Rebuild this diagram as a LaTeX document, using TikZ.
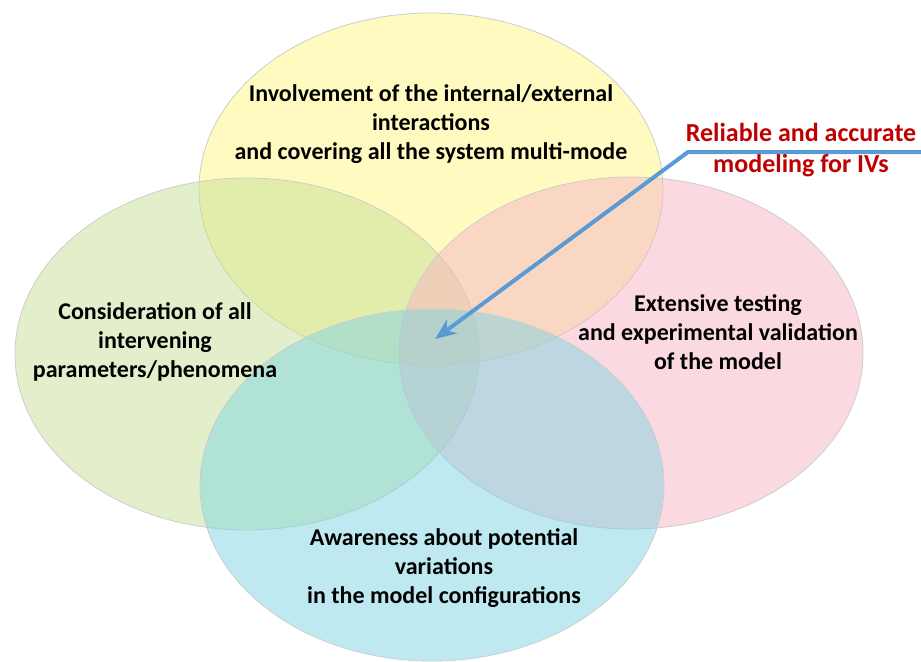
\documentclass[tikz,border=0pt]{standalone}
\usepackage{fontspec}
\setmainfont{Carlito}
\usetikzlibrary{shapes.geometric,arrows.meta}

\definecolor{ovYellow}{RGB}{255,246,130}
\definecolor{ovGreen}{RGB}{200,224,150}
\definecolor{ovPink}{RGB}{246,180,196}
\definecolor{ovCyan}{RGB}{128,212,226}
\definecolor{ovEdge}{RGB}{205,205,205}
\definecolor{goalRed}{RGB}{192,0,0}
\definecolor{arrowBlue}{RGB}{91,155,213}

\tikzset{
	every picture/.style={line width=0.75pt},
	oval/.style={ellipse, draw=ovEdge, line width=0.6pt, fill opacity=0.5, minimum width=348pt, minimum height=264pt, inner sep=0pt},
	lbl/.style={align=center, font=\bfseries\fontsize{18}{21.5}\selectfont, text=black},
	goal/.style={align=center, font=\bfseries\fontsize{19.5}{23.5}\selectfont, text=goalRed}
}

\begin{document}
\begin{tikzpicture}[x=0.75pt,y=0.75pt,yscale=-1,xscale=1]
	\useasboundingbox (0,0) rectangle (921,661);

	% ovals
	\node[oval, fill=ovYellow] (top) at (431,189) {};
	\node[oval, fill=ovGreen] (left) at (247,354) {};
	\node[oval, fill=ovPink] (right) at (631,353) {};
	\node[oval, fill=ovCyan] (bottom) at (432,485) {};

	% texts
	\node[lbl] (topTxt) at (431,124) {Involvement of the internal/external\\interactions\\and covering all the system multi-mode};
	\node[lbl] (leftTxt) at (155,342) {Consideration of all\\intervening\\parameters/phenomena};
	\node[lbl] (rightTxt) at (718,332) {Extensive testing\\and experimental validation\\of the model};
	\node[lbl] (bottomTxt) at (444,568) {Awareness about potential\\variations\\in the model configurations};
	\node[goal] (goalTxt) at (801,150) {Reliable and accurate\\modeling for IVs};

	% pointer
	\coordinate (tail) at (921,152);
	\coordinate (bend) at (688,152);
	\coordinate (core) at (435,339);
	\draw[arrowBlue, line width=3pt, -{Stealth[length=16pt,width=13pt]}] (tail) -- (bend) -- (core);
\end{tikzpicture}
\end{document}
